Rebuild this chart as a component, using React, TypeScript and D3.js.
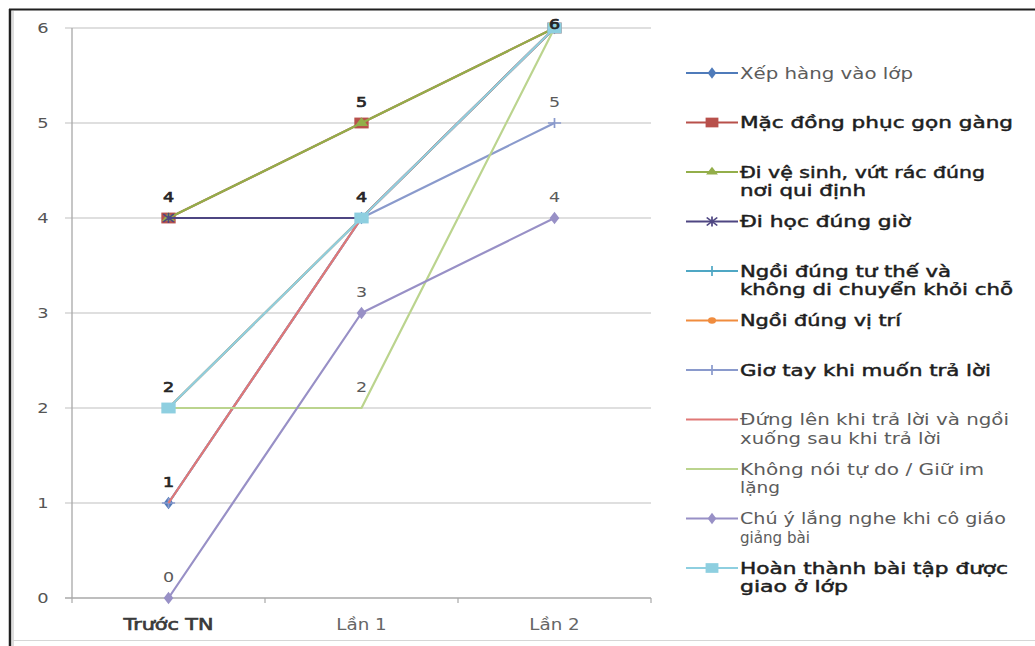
import React from "react";
import * as d3 from "d3";

// Categories (x axis) and value ticks (y axis)
const CATEGORIES = ["Trước TN", "Lần 1", "Lần 2"];
const Y_TICKS = [0, 1, 2, 3, 4, 5, 6];

// One small array per behaviour: score at each stage
const xepHang = [1, 4, 6];
const macDongPhuc = [4, 5, 6];
const diVeSinh = [4, 5, 6];
const diHocDungGio = [4, 4, 6];
const ngoiDungTuThe = [2, 4, 6];
const ngoiDungViTri = [2, 4, 6];
const gioTay = [1, 4, 5];
const dungLen = [1, 4, 6];
const khongNoiTuDo = [2, 2, 6];
const chuYLangNghe = [0, 3, 4];
const hoanThanhBaiTap = [2, 4, 6];

// Legend labels, split on the lines they wrap to
const LABEL_LINES = [
  ["Xếp hàng vào lớp"],
  ["Mặc đồng phục gọn gàng"],
  ["Đi vệ sinh, vứt rác đúng", "nơi qui định"],
  ["Đi học đúng giờ"],
  ["Ngồi đúng tư thế và", "không di chuyển khỏi chỗ"],
  ["Ngồi đúng vị trí"],
  ["Giơ tay khi muốn trả lời"],
  ["Đứng lên khi trả lời và ngồi", "xuống sau khi trả lời"],
  ["Không nói tự do / Giữ im", "lặng"],
  ["Chú ý lắng nghe khi cô giáo", "giảng bài"],
  ["Hoàn thành bài tập được", "giao ở lớp"],
];

// Rendered width of each legend text line (the legend type is set wide)
const LEGEND_LINE_WIDTHS = [
  [173],
  [273],
  [245, 126],
  [171],
  [211, 273],
  [161],
  [251],
  [269, 201],
  [244, 40],
  [266, 70],
  [268, 108],
];

type Marker = "diamond" | "square" | "triangle" | "star" | "plus" | "circle" | "none";

const SERIES = [
  { values: xepHang, color: "#4F7BBA", marker: "diamond" as Marker, strong: false },
  { values: macDongPhuc, color: "#B8504B", marker: "square" as Marker, strong: true },
  { values: diVeSinh, color: "#93AE4A", marker: "triangle" as Marker, strong: true },
  { values: diHocDungGio, color: "#4E4682", marker: "star" as Marker, strong: true },
  { values: ngoiDungTuThe, color: "#4FA7C4", marker: "plus" as Marker, strong: true },
  { values: ngoiDungViTri, color: "#F08C3E", marker: "circle" as Marker, strong: true },
  { values: gioTay, color: "#8A9ACC", marker: "plus" as Marker, strong: true },
  { values: dungLen, color: "#E07876", marker: "none" as Marker, strong: false },
  { values: khongNoiTuDo, color: "#BBD48E", marker: "none" as Marker, strong: false },
  { values: chuYLangNghe, color: "#9890C6", marker: "diamond" as Marker, strong: false },
  { values: hoanThanhBaiTap, color: "#8ECFE0", marker: "square" as Marker, strong: true },
];

const W = 1035;
const H = 646;
const PLOT = { left: 72, right: 651, top: 28, bottom: 598 };
const SX = 1.32; // horizontal stretch of the type and markers

const x = d3.scaleBand<string>().domain(CATEGORIES).range([PLOT.left, PLOT.right]).padding(0);
const cx = (i: number) => (x(CATEGORIES[i]) as number) + x.bandwidth() / 2;
const y = d3.scaleLinear().domain([0, 6]).range([PLOT.bottom, PLOT.top]);

const lineGen = d3
  .line<number>()
  .x((_, i) => cx(i))
  .y((v) => y(v));

// Data labels: one per distinct (stage, value); shared points print darker
const labelRollup = d3.rollup(
  SERIES.flatMap((s) => s.values.map((v, i) => ({ i, v }))),
  (g) => g.length,
  (d) => d.i,
  (d) => d.v
);
const DATA_LABELS: { i: number; v: number; n: number }[] = [];
labelRollup.forEach((byValue, i) => byValue.forEach((n, v) => DATA_LABELS.push({ i, v, n })));

function SText(props: any) {
  const { x: tx, y: ty, sx = SX, children, ...rest } = props;
  return (
    <text transform={`translate(${tx},${ty}) scale(${sx},1)`} {...rest}>
      {children}
    </text>
  );
}

function MarkerMark({ type, px, py, color, big = true }: { type: Marker; px: number; py: number; color: string; big?: boolean }) {
  const tf = `translate(${px},${py}) scale(${SX},1)`;
  const k = big ? 1 : 0.8;
  switch (type) {
    case "diamond":
      return <path transform={tf} d={d3.symbol(d3.symbolDiamond, 46 * k)() as string} fill={color} />;
    case "square":
      return <path transform={tf} d={d3.symbol(d3.symbolSquare, 118 * k)() as string} fill={color} />;
    case "triangle":
      return <path transform={tf} d={d3.symbol(d3.symbolTriangle, 44 * k)() as string} fill={color} />;
    case "circle":
      return <ellipse cx={px} cy={py} rx={5 * k} ry={4 * k} fill={color} />;
    case "plus":
      return <path transform={tf} d="M-5,0H5M0,-5V5" stroke={color} strokeWidth={1.3} fill="none" />;
    case "star":
      return <path transform={tf} d="M-4,-4L4,4M-4,4L4,-4M0,-5V5" stroke={color} strokeWidth={1.3} fill="none" />;
    default:
      return null;
  }
}

export default function App() {
  const legendX0 = 686;
  const legendX1 = 738;
  const legendTextX = 740;
  const legendTop = 73;
  const legendStep = 49.5;
  const legendLineGap = 18.6;

  return (
    <svg
      width={W}
      height={H}
      viewBox={`0 0 ${W} ${H}`}
      style={{ position: "absolute", left: 0, top: 0, background: "#fff" }}
    >
      <rect x={0} y={0} width={W} height={H} fill="#fff" />

      {/* chart frame */}
      <line x1={9} y1={9.5} x2={W} y2={9.5} stroke="#1f1f1f" strokeWidth={2} />
      <line x1={10} y1={9} x2={10} y2={H} stroke="#1f1f1f" strokeWidth={2.5} />
      <line x1={13} y1={11} x2={13} y2={H} stroke="#bdbdbd" strokeWidth={1} />
      <line x1={13} y1={640.5} x2={W} y2={640.5} stroke="#d6d6d6" strokeWidth={1} />

      {/* gridlines and axes */}
      {Y_TICKS.filter((t) => t > 0).map((t) => (
        <line key={"g" + t} x1={PLOT.left - 7} x2={PLOT.right} y1={y(t)} y2={y(t)} stroke="#d4d4d4" strokeWidth={1.3} />
      ))}
      <line x1={PLOT.left - 7} x2={PLOT.right} y1={y(0)} y2={y(0)} stroke="#a8a8a8" strokeWidth={1.3} />
      <line x1={PLOT.left} x2={PLOT.left} y1={PLOT.top} y2={PLOT.bottom} stroke="#a8a8a8" strokeWidth={1.3} />
      {CATEGORIES.map((c, i) => (
        <line key={"xt" + i} x1={x(c) as number} x2={x(c) as number} y1={PLOT.bottom} y2={PLOT.bottom + 5} stroke="#a8a8a8" strokeWidth={1.2} />
      ))}
      <line x1={PLOT.right} x2={PLOT.right} y1={PLOT.bottom} y2={PLOT.bottom + 5} stroke="#a8a8a8" strokeWidth={1.2} />

      {/* y tick labels */}
      {Y_TICKS.map((t) => (
        <SText key={"yl" + t} x={43} y={y(t) + 5} textAnchor="middle" fontFamily="DejaVu Sans" fontSize={13.5} fill="#555">
          {t}
        </SText>
      ))}

      {/* x tick labels */}
      {CATEGORIES.map((c, i) => (
        <SText
          key={"xl" + c}
          x={cx(i)}
          y={630}
          textAnchor="middle"
          fontFamily="DejaVu Sans"
          fontSize={15}
          fill={i === 0 ? "#3a3a3a" : "#666"}
          stroke={i === 0 ? "#3a3a3a" : "none"}
          strokeWidth={i === 0 ? 0.6 : 0}
          sx={i === 0 ? 1.38 : 1.22}
        >
          {c}
        </SText>
      ))}

      {/* series lines and markers */}
      {SERIES.map((s, si) => (
        <g key={"s" + si}>
          <path d={lineGen(s.values) as string} fill="none" stroke={s.color} strokeWidth={2.2} strokeLinejoin="round" />
          {s.values.map((v, i) => (
            <MarkerMark key={i} type={s.marker} px={cx(i)} py={y(v)} color={s.color} />
          ))}
        </g>
      ))}

      {/* data labels */}
      {DATA_LABELS.map((d) => (
        <SText
          key={`dl${d.i}-${d.v}`}
          x={cx(d.i)}
          y={Math.max(y(d.v) - 16, 29)}
          textAnchor="middle"
          fontFamily="DejaVu Sans"
          fontSize={14}
          fill={d.n > 1 ? "#262626" : "#5a5a5a"}
          stroke={d.n > 1 ? "#262626" : "none"}
          strokeWidth={d.n > 1 ? 0.7 : 0}
          sx={1.25}
        >
          {d.v}
        </SText>
      ))}

      {/* legend */}
      {SERIES.map((s, si) => {
        const ly = legendTop + si * legendStep;
        return (
          <g key={"lg" + si}>
            <line x1={legendX0} x2={legendX1} y1={ly} y2={ly} stroke={s.color} strokeWidth={2.2} />
            <MarkerMark type={s.marker} px={(legendX0 + legendX1) / 2} py={ly} color={s.color} big={false} />
            {LABEL_LINES[si].map((txt, li) => (
              <text
                key={li}
                x={legendTextX}
                y={ly + li * legendLineGap + 5.5}
                fontFamily="DejaVu Sans"
                fontSize={15}
                fill={s.strong ? "#1e1e1e" : "#5c5c5c"}
                stroke={s.strong ? "#1e1e1e" : "none"}
                strokeWidth={s.strong ? 0.45 : 0}
                textLength={LEGEND_LINE_WIDTHS[si][li]}
                lengthAdjust="spacingAndGlyphs"
              >
                {txt}
              </text>
            ))}
          </g>
        );
      })}
    </svg>
  );
}
